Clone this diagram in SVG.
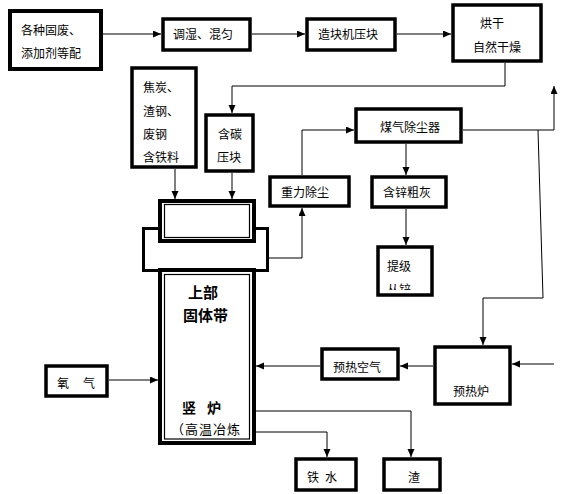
<svg xmlns="http://www.w3.org/2000/svg" width="570" height="494" viewBox="0 0 570 494">
<defs>
<style>
.box{fill:#fff;stroke:#000;stroke-width:3.5}
.thin{fill:none;stroke:#000;stroke-width:1.2}
.t{font-family:"Noto Sans CJK SC","Liberation Sans",sans-serif;font-size:12px;fill:#000}
.b{font-family:"Noto Sans CJK SC","Liberation Sans",sans-serif;font-size:14px;font-weight:bold;fill:#000}
.c{fill:none;stroke:#000;stroke-width:1}
</style>
<marker id="a" markerUnits="userSpaceOnUse" markerWidth="8" markerHeight="8" refX="8" refY="3.5" orient="auto">
<path d="M0,0 L8,3.5 L0,7 z" fill="#000"/>
</marker>
<clipPath id="clipTj"><rect x="380" y="280" width="50" height="10"/></clipPath>
</defs>
<rect width="570" height="494" fill="#fff"/>

<g id="connectors">
<path class="c" d="M103,34 H161" marker-end="url(#a)"/>
<path class="c" d="M252,34 H305" marker-end="url(#a)"/>
<path class="c" d="M397,34 H451" marker-end="url(#a)"/>
<path class="c" d="M505,63 V86 H232 V113" marker-end="url(#a)"/>
<path class="c" d="M175,169 V199" marker-end="url(#a)"/>
<path class="c" d="M232,173 V199" marker-end="url(#a)"/>
<path class="c" d="M269,258 H302 V208" marker-end="url(#a)"/>
<path class="c" d="M302,175 V130 H354" marker-end="url(#a)"/>
<path class="c" d="M463,130 H554 V86" marker-end="url(#a)"/>
<path class="c" d="M538,130 L543,298 H483 V345" marker-end="url(#a)"/>
<path class="c" d="M406,144 V175" marker-end="url(#a)"/>
<path class="c" d="M406,209 V245" marker-end="url(#a)"/>
<path class="c" d="M109,380 H158" marker-end="url(#a)"/>
<path class="c" d="M320,366 H256" marker-end="url(#a)"/>
<path class="c" d="M433,366 H400" marker-end="url(#a)"/>
<path class="c" d="M554,364 H512" marker-end="url(#a)"/>
<path class="c" d="M256,411 H411 V457" marker-end="url(#a)"/>
<path class="c" d="M256,432 H327 V457" marker-end="url(#a)"/>
</g>

<g id="n-raw">
<rect class="box" x="10" y="11" width="91" height="58" style="stroke-width:4"/>
<text class="t" x="21" y="35">各种固废、</text>
<text class="t" x="21" y="58">添加剂等配</text>
</g>
<g id="n-mix">
<rect class="box" x="163" y="19" width="87" height="31"/>
<text class="t" x="173" y="39">调湿、混匀</text>
</g>
<g id="n-press">
<rect class="box" x="307" y="19" width="88" height="31"/>
<text class="t" x="318" y="39">造块机压块</text>
</g>
<g id="n-dry">
<rect class="box" x="453" y="5" width="88" height="56"/>
<text class="t" x="480" y="28">烘干</text>
<text class="t" x="473" y="52">自然干燥</text>
</g>
<g id="n-coke">
<rect class="box" x="132" y="68" width="64" height="99"/>
<text class="t" x="143" y="92">焦炭、</text>
<text class="t" x="143" y="116">渣钢、</text>
<text class="t" x="143" y="139">废钢</text>
<text class="t" x="143" y="162">含铁料</text>
</g>
<g id="n-carbon">
<rect class="box" x="206" y="115" width="47" height="56"/>
<text class="t" x="218" y="139">含碳</text>
<text class="t" x="217" y="162">压块</text>
</g>
<g id="n-furnace">
<rect x="143.5" y="228.5" width="124" height="42" fill="#fff" stroke="#000" stroke-width="3"/>
<rect class="box" x="160" y="201" width="94" height="40" style="stroke-width:4"/>
<rect class="thin" x="164.5" y="204.5" width="85" height="33"/>
<rect class="box" x="160" y="270" width="94" height="173" style="stroke-width:4"/>
<rect class="thin" x="164.5" y="274.5" width="85" height="164.5"/>
<text class="b" x="188" y="298" style="font-size:15px">上部</text>
<text class="b" x="183" y="321" style="font-size:15px">固体带</text>
<text class="b" x="182" y="413">竖</text>
<text class="b" x="207" y="413">炉</text>
<text class="t" x="171" y="434" style="font-size:13px;letter-spacing:1px">（高温冶炼</text>
</g>
<g id="n-gravity">
<rect class="box" x="270" y="177" width="79" height="29"/>
<text class="t" x="281" y="197">重力除尘</text>
</g>
<g id="n-gas">
<rect class="box" x="356" y="109" width="105" height="33"/>
<text class="t" x="380" y="132">煤气除尘器</text>
</g>
<g id="n-zn">
<rect class="box" x="372" y="177" width="74" height="30"/>
<text class="t" x="383" y="197">含锌粗灰</text>
</g>
<g id="n-up">
<rect class="box" x="378" y="247" width="54" height="48"/>
<text class="t" x="387" y="271">提级</text>
<text class="t" x="387" y="294" clip-path="url(#clipTj)">从锌</text>
</g>
<g id="n-o2">
<rect class="box" x="46" y="366" width="61" height="30"/>
<text class="t" x="57" y="388">氧</text>
<text class="t" x="83" y="388">气</text>
</g>
<g id="n-air">
<rect class="box" x="322" y="349" width="76" height="30"/>
<text class="t" x="333" y="372">预热空气</text>
</g>
<g id="n-preheat">
<rect class="box" x="435" y="347" width="75" height="57"/>
<text class="t" x="453" y="396">预热炉</text>
</g>
<g id="n-iron">
<rect class="box" x="296" y="459" width="60" height="31"/>
<text class="t" x="307" y="482">铁</text>
<text class="t" x="325" y="482">水</text>
</g>
<g id="n-slag">
<rect class="box" x="384" y="459" width="56" height="31"/>
<text class="t" x="408" y="482">渣</text>
</g>
</svg>
